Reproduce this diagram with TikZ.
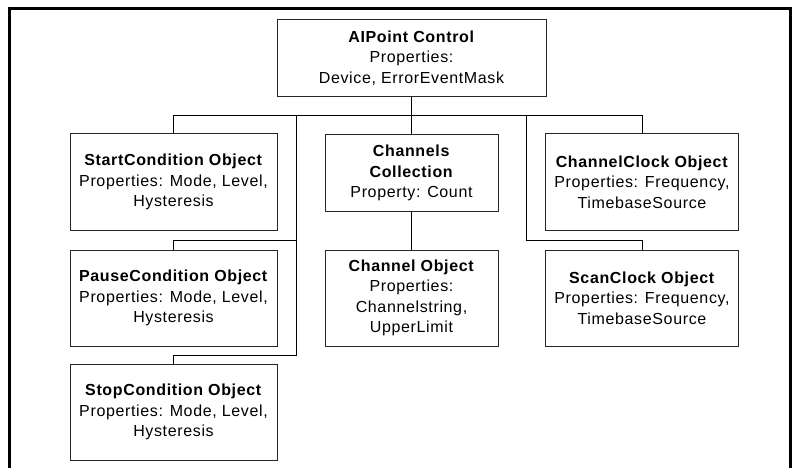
\documentclass[tikz,border=0pt]{standalone}
\usepackage{fontspec}
\setmainfont{Liberation Sans}[LetterSpace=4]
\begin{document}
\begin{tikzpicture}[x=1pt,y=-1pt,
  objbox/.style={draw=black!85, line width=1pt, inner sep=0pt, align=center,
    font=\fontsize{16}{20.3}\selectfont},
  conn/.style={draw=black, line width=1pt},
  frameline/.style={draw=black, line width=3pt}]
\useasboundingbox (0,0) rectangle (800,468);
\draw[frameline] (9,468) -- (9,8.5) -- (790,8.5) -- (790,468);

\node[objbox, minimum width=269pt, minimum height=77pt] (AI) at (411.5,58)
  {\textbf{AIPoint Control}\\Properties:\\Device, ErrorEventMask};
\node[objbox, minimum width=207pt, minimum height=96pt] (Start) at (173.5,182)
  {\textbf{StartCondition Object}\\Properties: Mode, Level,\\Hysteresis};
\node[objbox, minimum width=207pt, minimum height=96pt] (Pause) at (173.5,298)
  {\textbf{PauseCondition Object}\\Properties: Mode, Level,\\Hysteresis};
\node[objbox, minimum width=207pt, minimum height=96pt] (Stop) at (173.5,412)
  {\textbf{StopCondition Object}\\Properties: Mode, Level,\\Hysteresis};
\node[objbox, minimum width=173pt, minimum height=77.7pt] (Chs) at (411.5,173)
  {\textbf{Channels}\\\textbf{Collection}\\Property: Count};
\node[objbox, minimum width=173pt, minimum height=96pt] (ChO) at (411.5,298)
  {\textbf{Channel Object}\\Properties:\\Channelstring,\\UpperLimit};
\node[objbox, minimum width=192.3pt, minimum height=96pt] (CC) at (642,182)
  {\textbf{ChannelClock Object}\\Properties: Frequency,\\TimebaseSource};
\node[objbox, minimum width=192.3pt, minimum height=96pt] (SC) at (642,298)
  {\textbf{ScanClock Object}\\Properties: Frequency,\\TimebaseSource};

\coordinate (bus) at (0,115.7);
\coordinate (lvtop) at (296.7,115.7);
\coordinate (lvmid) at (296.7,240);
\coordinate (lvbot) at (296.7,355);
\coordinate (rvtop) at (526.7,115.7);
\coordinate (rvbot) at (526.7,240);

\draw[conn] (AI.south) -- (Chs.north);
\draw[conn] (Start.north) |- (CC.north |- bus) -- (CC.north);
\draw[conn] (lvtop) -- (lvbot) -| (Stop.north);
\draw[conn] (lvmid) -| (Pause.north);
\draw[conn] (rvtop) -- (rvbot) -| (SC.north);
\draw[conn] (Chs.south) -- (ChO.north);
\end{tikzpicture}
\end{document}
